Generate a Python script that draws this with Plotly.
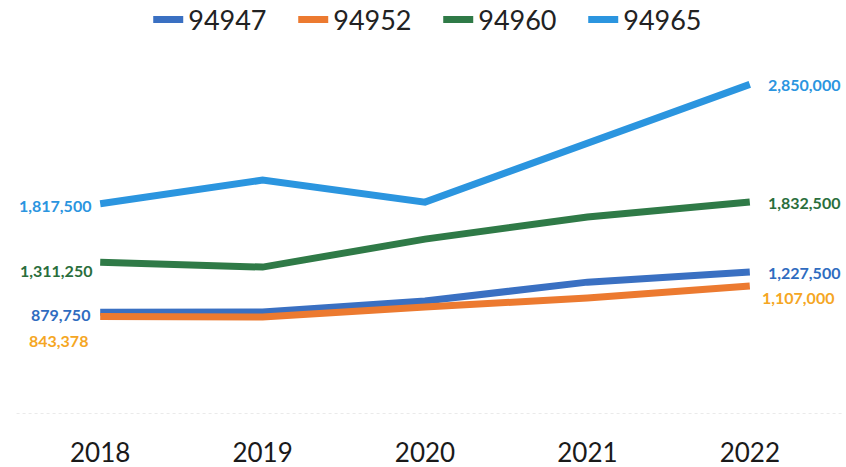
import plotly.graph_objects as go

years = ["2018", "2019", "2020", "2021", "2022"]
zip_codes = ["94947", "94952", "94960", "94965"]

# Median home price by ZIP code
values_94947 = [879750, 881000, 977000, 1140000, 1227500]
values_94952 = [843378, 838000, 925000, 1003000, 1107000]
values_94960 = [1311250, 1270000, 1512000, 1703000, 1832500]
values_94965 = [1817500, 2022000, 1832000, 2342000, 2850000]

series = [values_94947, values_94952, values_94960, values_94965]
line_colors = ["#3a70c2", "#ec7a30", "#2f7a47", "#2b95df"]
label_colors = ["#2f6cc0", "#f5a623", "#2a6e3c", "#2b95df"]

# label offsets (px) for first/last point labels: (xshift, yshift)
left_offsets = [(-8, -2), (-10, -24), (-6, -8), (-7, -2)]
right_offsets = [(16, 0), (10, -12), (16, 0), (16, 0)]

font_family = "Lato"

fig = go.Figure()
for name, vals, col in zip(zip_codes, series, line_colors):
    fig.add_trace(go.Scatter(
        x=years, y=vals, name=name, mode="lines",
        line=dict(color=col, width=7),
        hoverinfo="skip",
    ))

annotations = []
for vals, col, lo, ro in zip(series, label_colors, left_offsets, right_offsets):
    annotations.append(dict(
        x=0, y=vals[0], xref="x", yref="y",
        text="<b>" + f"{vals[0]:,}" + "</b>", showarrow=False,
        xanchor="right", yanchor="middle",
        xshift=lo[0], yshift=lo[1],
        font=dict(family=font_family, size=16, color=col),
    ))
    annotations.append(dict(
        x=len(years) - 1, y=vals[-1], xref="x", yref="y",
        text="<b>" + f"{vals[-1]:,}" + "</b>", showarrow=False,
        xanchor="left", yanchor="middle",
        xshift=ro[0], yshift=ro[1],
        font=dict(family=font_family, size=16, color=col),
    ))

fig.update_layout(
    width=846, height=467,
    margin=dict(l=19, r=15, t=67, b=53),
    paper_bgcolor="white", plot_bgcolor="white",
    showlegend=True,
    legend=dict(
        orientation="h", x=0.518, xanchor="center", xref="container",
        y=1 - 20 / 467, yanchor="middle", yref="container",
        font=dict(family=font_family, size=27, color="#222222"),
        entrywidth=100, entrywidthmode="pixels",
    ),
    annotations=annotations,
    shapes=[dict(
        type="line", xref="paper", yref="y",
        x0=-0.003, x1=1.013, y0=0, y1=0,
        line=dict(color="#d4d4d4", width=1, dash="dot"),
    )],
)
fig.update_xaxes(
    type="category", range=[-0.5, 4.5], automargin=False,
    showgrid=False, zeroline=False, showline=False,
    ticks="outside", ticklen=16, tickcolor="rgba(0,0,0,0)",
    tickfont=dict(family=font_family, size=26, color="#1a1a1a"),
)
fig.update_yaxes(
    range=[0, 3000000], visible=False, showgrid=False, zeroline=False,
    automargin=False,
)

fig.write_html("out.html")
